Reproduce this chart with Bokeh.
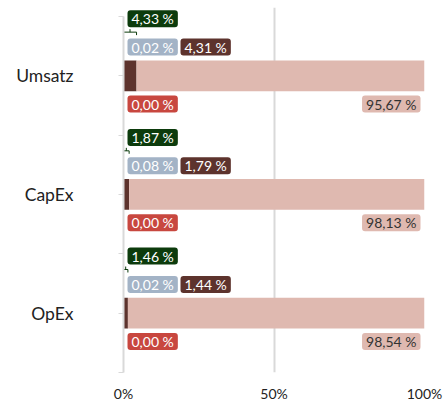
from bokeh.plotting import figure
from bokeh.models import Range1d, FixedTicker, PrintfTickFormatter
from bokeh.core.properties import value
from bokeh.embed import file_html
from bokeh.resources import INLINE

categories = ["Umsatz", "CapEx", "OpEx"]
gray_vals = [0.02, 0.08, 0.02]
brown_vals = [4.31, 1.79, 1.44]
pink_vals = [95.67, 98.13, 98.54]
red_vals = [0.00, 0.00, 0.00]
total_vals = [4.33, 1.87, 1.46]
x_ticks = [0, 50, 100]

C_GREEN = "#0c3b0c"
C_GRAY = "#a3b3c6"
C_BROWN = "#5d332d"
C_PINK = "#dfb9b0"
C_RED = "#c8473f"
C_GRID = "#d9d9d9"
FONT = value("Lato")

BAND_H = 359
HEADROOM = 9
n = len(categories)
PPU = BAND_H / n  # pixels per y unit


def fmt(v):
    return f"{v:.2f}".replace(".", ",") + " %"


ys = [n - i - 0.5 for i in range(n)]

def dy(px):
    return px / PPU

p = figure(width=446, height=404, output_backend="svg",
           toolbar_location=None, x_range=Range1d(0, 100),
           y_range=Range1d(0, n + dy(HEADROOM)),
           min_border_left=123, min_border_right=22, min_border_top=7,
           min_border_bottom=29)
p.outline_line_color = None
p.background_fill_color = "white"

# axes
p.xaxis.ticker = FixedTicker(ticks=x_ticks)
p.xaxis.formatter = PrintfTickFormatter(format="%d%%")
p.xaxis.axis_line_color = None
p.xaxis.major_tick_line_color = None
p.xaxis.minor_tick_line_color = None
p.xaxis.major_tick_out = 0
p.xaxis.major_tick_in = 0
p.xaxis.minor_tick_out = 0
p.xaxis.major_label_standoff = 12
p.xaxis.major_label_text_font = "Lato"
p.xaxis.major_label_text_font_size = "14px"
p.xaxis.major_label_text_color = "#222222"

p.yaxis.bounds = (0, n)
p.yaxis.ticker = FixedTicker(ticks=ys, minor_ticks=[float(k) for k in range(n + 1)])
p.yaxis.major_label_overrides = {y: c for y, c in zip(ys, categories)}
p.yaxis.axis_line_color = C_GRID
p.yaxis.axis_line_width = 2
p.yaxis.major_tick_line_color = C_GRID
p.yaxis.minor_tick_line_color = C_GRID
p.yaxis.major_tick_out = 5
p.yaxis.major_tick_in = 0
p.yaxis.minor_tick_out = 5
p.yaxis.minor_tick_in = 0
p.yaxis.major_label_standoff = 45
p.yaxis.major_label_text_font = "Lato"
p.yaxis.major_label_text_font_size = "17.5px"
p.yaxis.major_label_text_color = "#222222"

p.xgrid.ticker = FixedTicker(ticks=x_ticks)
p.xgrid.bounds = (0, n)
p.xgrid.grid_line_color = C_GRID
p.xgrid.grid_line_width = 2
p.ygrid.grid_line_color = None

# stacked bars
bar_h = dy(31)
left = [0.0] * n
for vals, col in [(gray_vals, C_GRAY), (brown_vals, C_BROWN), (pink_vals, C_PINK), (red_vals, C_RED)]:
    right = [l + v for l, v in zip(left, vals)]
    p.hbar(y=ys, left=left, right=right, height=bar_h, fill_color=col, line_color=None)
    left = right

common = dict(text_font=FONT, text_font_size="14px", text_baseline="middle",
              padding=(4, 0), border_radius=3)

# green total labels + bracket
p.text(x=[0] * n, y=[y + dy(57.5) for y in ys], text=[fmt(v) for v in total_vals],
       text_color="white", text_align="left", x_offset=4,
       background_fill_color=C_GREEN, **common)
yb = [y + dy(44) for y in ys]
p.segment(x0=[0] * n, x1=total_vals, y0=yb, y1=yb, line_color=C_GREEN, line_width=1)
p.segment(x0=[0] * n, x1=[0] * n, y0=yb, y1=[y - dy(3) for y in yb], line_color=C_GREEN, line_width=1)
p.segment(x0=total_vals, x1=total_vals, y0=yb, y1=[y - dy(3) for y in yb], line_color=C_GREEN, line_width=1)
mid = [t / 2 for t in total_vals]
p.segment(x0=mid, x1=mid, y0=yb, y1=[y + dy(3) for y in yb], line_color=C_GREEN, line_width=1)

# gray and brown labels above bars
p.text(x=[0] * n, y=[y + dy(29) for y in ys], text=[fmt(v) for v in gray_vals],
       text_color="white", text_align="left", x_offset=4,
       background_fill_color=C_GRAY, **common)
p.text(x=[0] * n, y=[y + dy(29) for y in ys], text=[fmt(v) for v in brown_vals],
       text_color="white", text_align="left", x_offset=57,
       background_fill_color=C_BROWN, **common)

# red and pink labels below bars
p.text(x=[0] * n, y=[y - dy(28.5) for y in ys], text=[fmt(v) for v in red_vals],
       text_color="white", text_align="left", x_offset=4,
       background_fill_color=C_RED, **common)
p.text(x=[100] * n, y=[y - dy(28.5) for y in ys], text=[fmt(v) for v in pink_vals],
       text_color="#333333", text_align="right", x_offset=-4,
       background_fill_color=C_PINK, **common)

open("out.html", "w").write(file_html(p, INLINE))
